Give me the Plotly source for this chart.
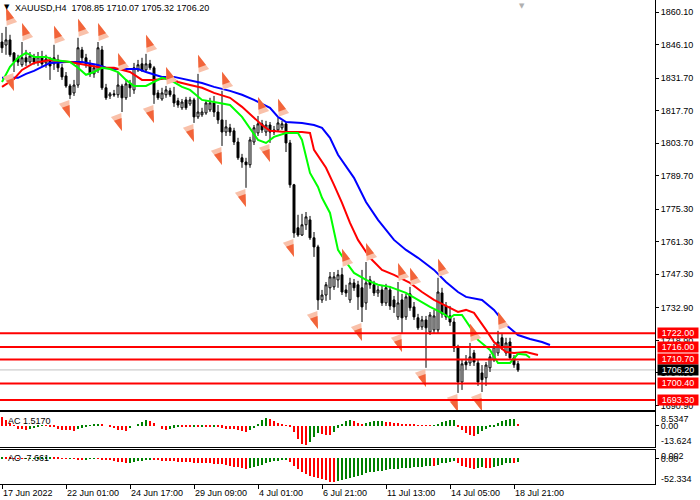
import plotly.graph_objects as go

# XAUUSD H4, bars 17 Jun 2022 09:00 .. 19 Jul 2022 01:00 (bar index 0..129)
bars = list(range(130))

opens = [1847.2, 1845.9, 1848.1, 1842.5, 1840.4, 1837.4, 1840.4, 1838.6, 1840.4, 1838.6,
         1840.8, 1838.2, 1839.5, 1837.8, 1839.5, 1836.1, 1832.6, 1828.3, 1825.3, 1828.7,
         1843.8, 1840.4, 1837.8, 1833.5, 1835.2, 1843.8, 1827.5, 1824.0, 1824.9, 1824.5,
         1828.3, 1823.2, 1829.2, 1826.6, 1835.2, 1837.8, 1835.2, 1837.8, 1836.1, 1825.3,
         1822.7, 1824.5, 1826.2, 1824.5, 1821.9, 1818.9, 1822.3, 1820.6, 1822.3, 1815.0,
         1815.9, 1816.7, 1818.0, 1821.0, 1817.1, 1813.7, 1808.5, 1810.3, 1809.0, 1804.2,
         1797.4, 1795.6, 1794.4, 1804.2, 1808.1, 1812.0, 1808.5, 1811.5, 1808.5, 1809.4,
         1810.3, 1812.0, 1803.8, 1785.8, 1767.3, 1764.2, 1768.6, 1770.7, 1763.0, 1759.1,
         1736.3, 1738.4, 1741.5, 1741.9, 1744.9, 1747.1, 1740.6, 1736.3, 1743.6, 1742.8,
         1741.5, 1735.0, 1744.9, 1742.8, 1739.3, 1740.6, 1735.0, 1740.6, 1736.3, 1729.0,
         1736.3, 1729.0, 1738.9, 1733.3, 1728.6, 1724.7, 1727.7, 1722.5, 1723.4, 1723.4,
         1739.3, 1733.7, 1729.4, 1726.8, 1715.7, 1701.0, 1709.6, 1709.2, 1713.5, 1709.2,
         1704.9, 1702.8, 1707.1, 1710.5, 1713.5, 1720.0, 1713.5, 1718.2, 1711.4, 1708.85]

highs = [1851.1, 1853.7, 1850.3, 1842.9, 1841.7, 1847.2, 1843.8, 1842.9, 1842.1, 1842.9,
         1843.4, 1841.7, 1840.8, 1846.0, 1841.7, 1837.8, 1834.3, 1829.2, 1830.9, 1849.0,
         1845.1, 1842.1, 1839.5, 1837.8, 1847.2, 1845.5, 1829.2, 1825.7, 1826.6, 1834.3,
         1829.2, 1830.9, 1830.9, 1838.2, 1839.5, 1840.4, 1842.1, 1839.5, 1836.9, 1826.6,
         1827.5, 1828.3, 1827.5, 1827.9, 1823.2, 1822.7, 1823.6, 1823.6, 1823.2, 1833.5,
         1818.9, 1822.3, 1823.2, 1824.0, 1820.1, 1826.2, 1813.7, 1812.0, 1810.3, 1806.0,
         1799.1, 1797.4, 1806.4, 1811.5, 1815.4, 1813.7, 1813.3, 1812.8, 1811.1, 1814.6,
         1813.3, 1812.8, 1805.1, 1786.2, 1772.9, 1773.3, 1774.1, 1772.4, 1765.5, 1760.0,
         1740.6, 1744.0, 1748.3, 1748.3, 1749.2, 1750.1, 1742.8, 1745.8, 1745.3, 1744.5,
         1749.2, 1752.6, 1746.6, 1744.5, 1742.3, 1742.3, 1743.2, 1742.3, 1738.0, 1744.0,
         1738.9, 1738.9, 1741.9, 1735.4, 1730.3, 1729.4, 1729.4, 1731.1, 1732.0, 1745.8,
         1741.5, 1735.4, 1733.7, 1728.6, 1717.0, 1710.5, 1712.6, 1717.8, 1714.8, 1710.5,
         1708.3, 1709.6, 1713.1, 1717.4, 1723.0, 1722.1, 1720.0, 1720.0, 1712.6, 1710.07]

lows = [1842.5, 1841.7, 1840.8, 1834.3, 1836.9, 1836.5, 1836.9, 1837.8, 1837.4, 1836.9,
        1836.5, 1836.1, 1830.9, 1835.2, 1834.3, 1830.9, 1827.5, 1822.7, 1824.0, 1827.5,
        1838.2, 1836.1, 1832.2, 1831.8, 1833.9, 1826.6, 1822.3, 1822.7, 1823.6, 1823.2,
        1817.1, 1822.3, 1823.6, 1824.9, 1834.3, 1834.3, 1834.3, 1835.2, 1820.6, 1822.3,
        1821.9, 1823.2, 1823.6, 1819.3, 1818.9, 1818.0, 1818.0, 1819.7, 1812.4, 1814.1,
        1815.0, 1815.9, 1817.1, 1815.0, 1812.0, 1802.5, 1806.8, 1806.8, 1802.9, 1796.5,
        1793.1, 1784.5, 1793.1, 1802.9, 1806.8, 1808.1, 1806.8, 1803.8, 1807.2, 1808.5,
        1809.4, 1799.9, 1784.5, 1763.0, 1763.4, 1763.8, 1766.4, 1762.1, 1754.8, 1732.0,
        1735.0, 1735.9, 1736.3, 1740.6, 1741.5, 1738.4, 1737.6, 1735.0, 1740.2, 1732.0,
        1726.8, 1732.0, 1741.1, 1738.0, 1737.6, 1733.7, 1733.7, 1732.0, 1730.7, 1727.7,
        1722.1, 1727.7, 1731.6, 1727.7, 1723.4, 1723.4, 1707.1, 1721.2, 1721.7, 1721.7,
        1728.6, 1727.7, 1725.1, 1713.9, 1696.3, 1697.6, 1706.2, 1707.9, 1707.9, 1699.3,
        1696.7, 1699.3, 1705.3, 1709.6, 1712.2, 1714.8, 1712.2, 1710.5, 1707.1, 1705.32]

closes = [1844.7, 1848.1, 1841.7, 1838.6, 1838.6, 1840.4, 1838.6, 1841.2, 1838.6, 1840.8,
          1837.8, 1839.9, 1836.9, 1840.4, 1836.1, 1832.2, 1828.3, 1824.5, 1828.7, 1844.7,
          1840.4, 1837.8, 1833.5, 1836.1, 1844.7, 1827.5, 1823.2, 1824.9, 1824.5, 1828.7,
          1823.2, 1829.2, 1827.5, 1836.1, 1837.4, 1835.2, 1837.8, 1836.1, 1824.5, 1823.2,
          1825.3, 1826.6, 1824.5, 1821.0, 1820.1, 1821.4, 1818.9, 1822.3, 1815.0, 1817.1,
          1817.1, 1821.0, 1821.0, 1817.1, 1813.7, 1808.5, 1810.7, 1808.5, 1804.2, 1797.4,
          1795.6, 1794.4, 1805.1, 1810.3, 1812.0, 1809.4, 1811.5, 1808.5, 1809.4, 1812.4,
          1812.0, 1803.8, 1785.8, 1765.1, 1764.2, 1768.6, 1772.0, 1763.0, 1759.1, 1736.3,
          1738.4, 1742.8, 1746.2, 1746.2, 1747.1, 1739.7, 1739.3, 1743.6, 1741.5, 1737.6,
          1733.3, 1743.6, 1742.8, 1739.3, 1740.6, 1735.0, 1741.5, 1733.7, 1733.3, 1735.0,
          1728.6, 1737.6, 1732.9, 1729.0, 1724.3, 1727.7, 1724.3, 1729.8, 1729.4, 1739.7,
          1730.3, 1729.0, 1726.8, 1715.7, 1701.0, 1708.8, 1708.4, 1711.8, 1709.6, 1701.0,
          1702.0, 1708.3, 1711.8, 1716.1, 1718.2, 1716.1, 1717.8, 1711.4, 1708.4, 1706.20]

# Alligator lines (already shifted forward: jaw 8, teeth 5, lips 3 bars)
jaw_bars = [0, 4, 6, 8, 10, 12, 16, 20, 24, 26, 28, 34, 36, 38, 40, 43, 47, 50, 53, 57,
            60, 63, 67, 69, 71, 75, 78, 80, 82, 84, 88, 91, 94, 98, 101, 104, 108, 111, 114, 116,
            120, 123, 126, 129, 132, 135, 137]
jaw_vals = [1831.8, 1831.8, 1833.5, 1834.8, 1836.5, 1838.2, 1838.6, 1838.6, 1837.3, 1836.1,
            1835.6, 1835.6, 1834.3, 1833.1, 1832.2, 1832.2, 1830.9, 1829.6, 1827.9, 1826.2,
            1824.5, 1822.3, 1818.9, 1815.0, 1812.8, 1812.4, 1811.5, 1810.3, 1806.0, 1798.7,
            1788.8, 1778.4, 1770.7, 1762.1, 1757.8, 1754.4, 1749.2, 1744.0, 1739.7, 1737.6,
            1736.3, 1732.0, 1725.6, 1721.2, 1719.5, 1718.2, 1716.9]
teeth_bars = [0, 3, 5, 8, 12, 17, 21, 25, 28, 32, 35, 38, 42, 44, 47, 50, 53, 57, 60, 62,
              65, 67, 71, 75, 77, 78, 81, 83, 85, 87, 89, 92, 95, 98, 102, 105, 108, 112, 114, 116,
              118, 121, 123, 126, 128, 131, 134]
teeth_vals = [1827.9, 1831.3, 1835.2, 1838.2, 1839.5, 1838.6, 1837.3, 1836.1, 1836.1, 1834.3,
              1830.9, 1830.9, 1831.8, 1830.0, 1828.7, 1827.5, 1825.3, 1823.2, 1819.3, 1816.3,
              1811.5, 1809.0, 1808.5, 1808.5, 1808.1, 1800.8, 1793.1, 1785.8, 1778.0, 1769.4,
              1762.1, 1754.4, 1749.2, 1747.1, 1743.6, 1739.7, 1736.3, 1732.9, 1731.1, 1732.0,
              1730.7, 1723.4, 1718.2, 1713.9, 1713.5, 1713.9, 1712.6]
lips_bars = [0, 2, 4, 6, 8, 11, 13, 17, 19, 21, 23, 25, 27, 29, 31, 33, 36, 38, 40, 42,
             45, 47, 50, 53, 57, 60, 62, 64, 66, 68, 71, 74, 75, 76, 77, 79, 80, 82, 83, 84,
             86, 88, 91, 94, 97, 101, 104, 107, 110, 112, 113, 115, 117, 119, 122, 124, 127, 129, 131, 132]
lips_vals = [1830.0, 1836.5, 1840.4, 1842.5, 1840.8, 1840.8, 1839.5, 1838.6, 1836.1, 1833.1,
             1834.3, 1836.1, 1835.6, 1834.3, 1830.9, 1828.3, 1828.3, 1830.0, 1831.8, 1830.9,
             1827.9, 1826.6, 1822.3, 1821.4, 1820.1, 1815.0, 1810.3, 1805.1, 1803.8, 1806.4,
             1808.1, 1808.1, 1805.1, 1797.8, 1790.9, 1784.9, 1780.2, 1773.7, 1765.1, 1757.8,
             1752.6, 1747.9, 1744.9, 1742.8, 1741.9, 1739.3, 1736.3, 1733.3, 1730.7, 1728.6,
             1729.8, 1729.8, 1724.7, 1719.1, 1714.8, 1709.2, 1709.2, 1713.1, 1712.7, 1711.4]

# Fractals (bar index)
up_fractals = [1, 5, 13, 19, 24, 29, 36, 41, 49, 55, 64, 69, 85, 91, 99, 102, 109, 117, 124]
down_fractals = [3, 17, 30, 38, 48, 55, 61, 67, 73, 79, 90, 100, 106, 114, 120]

# Accelerator Oscillator
ac_values = [6.5, 4.0, 2.0, 0.3, -1.9, -2.4, -2.9, -2.4, -1.7, -0.3,
             0.2, 0.1, -0.2, -0.7, -1.9, -2.7, -3.0, -3.2, -3.3, -2.4,
             -1.4, -0.5, 0.5, 1.2, 1.5, 0.8, 0.0, -1.0, -1.8, -2.6,
             -3.2, -3.4, -1.6, 0.0, 1.5, 2.8, 4.5, 3.8, 2.4, 0.0,
             -2.4, -2.9, -2.2, -1.4, -0.4, -0.5, -0.6, -0.8, -0.5, -0.7,
             -0.3, -0.5, -0.7, -0.6, -0.8, -1.4, -1.9, -2.2, -2.4, -3.1,
             -3.6, -4.3, -3.1, -1.7, 1.0, 4.3, 6.0, 5.0, 3.6, 1.9,
             0.7, 0.2, -0.5, -4.5, -9.6, -12.9, -13.624, -11.2, -7.6, -5.3,
             -6.0, -6.3, -6.5, -4.0, -1.2, 1.5, 3.4, 4.3, 3.4, 2.4,
             1.2, 2.0, 2.8, 3.4, 3.6, 3.8, 3.1, 2.6, 2.2, 1.9,
             1.6, 1.3, 1.0, 0.8, 0.6, 0.4, 0.2, 0.1, 0.3, 1.7,
             2.9, 3.6, 4.1, 4.3, -1.0, -3.1, -5.0, -6.5, -7.2, -5.5,
             -3.8, -2.2, -0.8, -0.2, 2.0, 3.4, 4.6, 4.8, 5.0, 1.517]

# Awesome Oscillator
ao_values = [2.0, 1.6, 1.2, 0.8, 0.5, 0.3, 0.6, 0.9, 1.1, 1.3,
             1.5, 1.8, 2.0, 1.9, 1.5, 1.0, -0.5, -0.3, -1.0, -1.3,
             -1.6, -1.2, -0.9, -0.6, -1.0, -1.6, -2.2, -2.8, -4.8, -7.1,
             -8.7, -11.1, -9.5, -7.9, -6.3, -4.8, -3.2, -2.6, -3.0, -3.6,
             -4.5, -5.0, -5.5, -6.2, -6.8, -7.5, -8.0, -8.5, -9.0, -9.5,
             -10.0, -10.5, -11.0, -11.5, -12.0, -13.0, -14.0, -16.0, -18.0, -20.0,
             -22.0, -23.0, -21.0, -19.0, -16.5, -13.5, -9.5, -8.0, -6.3, -4.8,
             -4.0, -3.2, -7.9, -15.9, -23.8, -29.3, -35.7, -39.7, -41.2, -43.6,
             -46.8, -49.2, -51.5, -52.334, -50.8, -47.6, -45.2, -43.6, -41.2, -38.9,
             -36.5, -33.3, -30.9, -29.3, -27.8, -27.0, -25.4, -23.8, -23.0, -22.6,
             -22.2, -21.4, -20.6, -19.8, -19.0, -18.2, -17.4, -17.0, -17.4, -13.5,
             -11.1, -9.5, -7.9, -5.6, -9.5, -15.9, -19.0, -21.4, -23.0, -21.4,
             -19.8, -21.4, -22.2, -19.8, -15.9, -13.5, -11.1, -9.5, -11.1, -7.661]

date_tick_bars = [0, 16, 32, 48, 64, 80, 96, 112, 128]
date_tick_labels = ["17 Jun 2022", "22 Jun 01:00", "24 Jun 17:00", "29 Jun 09:00", "4 Jul 01:00",
                    "6 Jul 21:00", "11 Jul 13:00", "14 Jul 05:00", "18 Jul 21:00"]
price_ticks = [1860.10, 1846.10, 1831.70, 1817.70, 1803.70, 1789.70, 1775.30, 1761.30,
               1747.30, 1732.90, 1718.90, 1704.90, 1690.90]
levels = [1722.00, 1716.00, 1710.70, 1700.40, 1693.30]
last_price = 1706.20

FONT = "Liberation Sans"
GREEN = "#008000"
RED = "#ff0000"
ARROW_PAD = 8.2  # price distance between bar extreme and fractal arrow tip


def hist_colors(vals, first):
    cols = [first]
    for a, b in zip(vals[:-1], vals[1:]):
        cols.append(GREEN if b > a else RED)
    return cols


fig = go.Figure()

fig.add_trace(go.Candlestick(
    x=bars, open=opens, high=highs, low=lows, close=closes,
    increasing=dict(line=dict(color="black", width=1), fillcolor="white"),
    decreasing=dict(line=dict(color="black", width=1), fillcolor="black"),
    whiskerwidth=0, hoverinfo="skip", xaxis="x", yaxis="y"))

for xs, ys, col in [(jaw_bars, jaw_vals, "#0000ff"),
                    (teeth_bars, teeth_vals, "#ff0000"),
                    (lips_bars, lips_vals, "#00ff00")]:
    fig.add_trace(go.Scatter(x=xs, y=ys, mode="lines", line=dict(color=col, width=2),
                             hoverinfo="skip", xaxis="x", yaxis="y"))

# fractal arrows: a pale outer arrow with a darker one on top gives the two-tone look
for size, col in [(18, "#f9c1aa"), (13, "#f2643a")]:
    fig.add_trace(go.Scatter(
        x=up_fractals, y=[highs[b] + ARROW_PAD for b in up_fractals], mode="markers",
        marker=dict(symbol="arrow", size=size, angle=-20, color=col, line=dict(width=0)),
        hoverinfo="skip", xaxis="x", yaxis="y"))
    fig.add_trace(go.Scatter(
        x=down_fractals, y=[lows[b] - ARROW_PAD for b in down_fractals], mode="markers",
        marker=dict(symbol="arrow", size=size, angle=160, color=col, line=dict(width=0)),
        hoverinfo="skip", xaxis="x", yaxis="y"))

fig.add_trace(go.Bar(x=bars, y=ac_values, width=0.3,
                     marker=dict(color=hist_colors(ac_values, RED), line=dict(width=0)),
                     hoverinfo="skip", xaxis="x2", yaxis="y2"))
fig.add_trace(go.Bar(x=bars, y=ao_values, width=0.3,
                     marker=dict(color=hist_colors(ao_values, GREEN), line=dict(width=0)),
                     hoverinfo="skip", xaxis="x3", yaxis="y3"))

# horizontal levels
shapes = [dict(type="line", xref="paper", x0=0, x1=1, yref="y", y0=last_price, y1=last_price,
               line=dict(color="#c0c0c0", width=1), layer="below")]
for lv in levels:
    shapes.append(dict(type="line", xref="paper", x0=0, x1=1, yref="y", y0=lv, y1=lv,
                       line=dict(color=RED, width=2)))

annotations = []
for lv in levels:
    annotations.append(dict(xref="paper", x=1, xanchor="left", xshift=2, yref="y", y=lv,
                            yanchor="middle", text=f"{lv:.2f}", showarrow=False, width=40, height=10,
                            bgcolor=RED, borderpad=0, font=dict(family=FONT, size=9, color="white")))
annotations.append(dict(xref="paper", x=1, xanchor="left", xshift=2, yref="y", y=last_price,
                        yanchor="middle", text=f"{last_price:.2f}", showarrow=False, width=40, height=10,
                        bgcolor="black", borderpad=0, font=dict(family=FONT, size=9, color="white")))

# header
annotations.append(dict(xref="paper", yref="paper", x=0, y=1, xanchor="left", yanchor="top",
                        xshift=2, yshift=-1, showarrow=False, text="\u25bc",
                        font=dict(family="DejaVu Sans", size=7, color="black")))
annotations.append(dict(xref="paper", yref="paper", x=0, y=1, xanchor="left", yanchor="top",
                        xshift=13, yshift=-1, showarrow=False,
                        text="XAUUSD,H4\u00a0\u00a01708.85 1710.07 1705.32 1706.20",
                        font=dict(family=FONT, size=9, color="black")))
annotations.append(dict(xref="x", yref="paper", x=130, y=1, xanchor="center", yanchor="top",
                        showarrow=False, text="\u25bc",
                        font=dict(family="DejaVu Sans", size=7, color="#b0b0b0")))

# sub-window labels
annotations.append(dict(xref="paper", yref="y2 domain", x=0, y=0.74, xanchor="left", yanchor="middle",
                        xshift=6, showarrow=False, text="AC 1.5170",
                        font=dict(family=FONT, size=9, color="black")))
annotations.append(dict(xref="paper", yref="y3 domain", x=0, y=0.76, xanchor="left", yanchor="middle",
                        xshift=6, showarrow=False, text="AO -7.661",
                        font=dict(family=FONT, size=9, color="black")))
for yref, val, txt, ys in [("y2", 8.5347, "8.5347", -5), ("y2", -13.624, "-13.624", 4),
                           ("y3", 0.002, "0.002", 2), ("y3", -52.334, "-52.334", 3)]:
    annotations.append(dict(xref="paper", x=1, xanchor="left", xshift=4, yref=yref, y=val,
                            yanchor="middle", yshift=ys, showarrow=False, text=txt,
                            font=dict(family=FONT, size=9, color="black")))

axis_common = dict(showgrid=False, zeroline=False, linecolor="black", linewidth=1,
                   tickcolor="black", tickfont=dict(family=FONT, size=9, color="black"))

fig.update_layout(
    width=700, height=500,
    margin=dict(l=0, r=45, t=0, b=16),
    paper_bgcolor="white", plot_bgcolor="white",
    showlegend=False, bargap=0,
    font=dict(family=FONT, size=9, color="black"),
    xaxis=dict(domain=[0, 1], range=[-0.5, 163.25], anchor="y", showline=True,
               showticklabels=False, ticks="", rangeslider=dict(visible=False), **axis_common),
    yaxis=dict(domain=[0.15289, 1], range=[1688.96, 1865.26], side="right", anchor="x",
               tickvals=price_ticks, tickformat=".2f", ticks="outside", ticklen=3,
               showline=True, **axis_common),
    xaxis2=dict(matches="x", anchor="y2", showline=True, mirror=True,
                showticklabels=False, ticks="", **axis_common),
    yaxis2=dict(domain=[0.07645, 0.14876], range=[-15.06, 10.0], side="right", anchor="x2",
                tickvals=[0], ticktext=["0.00"], ticks="outside", ticklen=3,
                showline=True, **axis_common),
    xaxis3=dict(matches="x", anchor="y3", showline=True, mirror=True,
                tickvals=date_tick_bars, ticktext=date_tick_labels, ticks="outside", ticklen=4,
                ticklabelposition="outside right", **axis_common),
    yaxis3=dict(domain=[0, 0.07025], range=[-57.1, 19.0], side="right", anchor="x3",
                tickvals=[0], ticktext=["0.00"], ticks="outside", ticklen=3,
                showline=True, **axis_common),
    shapes=shapes,
    annotations=annotations,
)

fig.write_html("out.html", config={"displayModeBar": False},
               post_script="document.body.style.margin='0';")
